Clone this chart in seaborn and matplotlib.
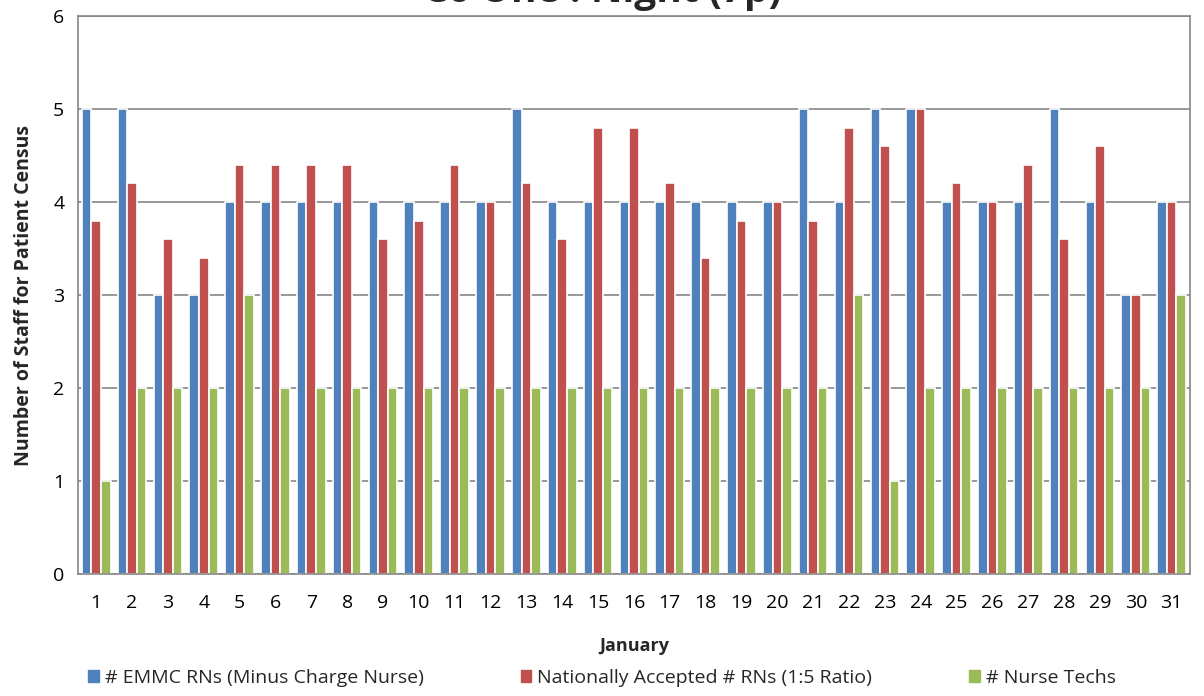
import matplotlib
matplotlib.use("Agg")
import matplotlib.pyplot as plt
import seaborn as sns
import pandas as pd

days = list(range(1, 32))
emmc_rns = [5, 5, 3, 3, 4, 4, 4, 4, 4, 4, 4, 4, 5, 4, 4, 4, 4, 4, 4, 4, 5, 4, 5, 5, 4, 4, 4, 5, 4, 3, 4]
national_rns = [3.8, 4.2, 3.6, 3.4, 4.4, 4.4, 4.4, 4.4, 3.6, 3.8, 4.4, 4.0, 4.2, 3.6, 4.8, 4.8, 4.2, 3.4,
                3.8, 4.0, 3.8, 4.8, 4.6, 5.0, 4.2, 4.0, 4.4, 3.6, 4.6, 3.0, 4.0]
nurse_techs = [1, 2, 2, 2, 3, 2, 2, 2, 2, 2, 2, 2, 2, 2, 2, 2, 2, 2, 2, 2, 2, 3, 1, 2, 2, 2, 2, 2, 2, 2, 3]
series_names = ["# EMMC RNs (Minus Charge Nurse)", "Nationally Accepted # RNs (1:5 Ratio)", "# Nurse Techs"]
colors = ["#4F81BD", "#C0504D", "#9BBB59"]

rows = []
for name, vals in zip(series_names, [emmc_rns, national_rns, nurse_techs]):
    for d, v in zip(days, vals):
        rows.append({"Day": str(d), "Value": v, "Series": name})
df = pd.DataFrame(rows)

sns.set_theme(style="white")
plt.rcParams['font.family'] = ['Open Sans', 'DejaVu Sans']

fig = plt.figure(figsize=(12.04, 6.96), dpi=100)
ax = fig.add_axes([0.065, 0.175, 0.923, 0.802])

ax.set_axisbelow(True)
ax.yaxis.grid(True, color="#868686", linewidth=1.2)
sns.barplot(data=df, x="Day", y="Value", hue="Series", palette=colors, saturation=1,
            order=[str(d) for d in days], hue_order=series_names,
            width=0.8, edgecolor="white", linewidth=1.2, ax=ax, legend=False)

ax.set_ylim(0, 6)
ax.set_yticks(range(0, 7))
ax.set_xlim(-0.5, 30.5)
ax.tick_params(axis="both", labelsize=14, length=0, colors="black")
ax.tick_params(axis="x", pad=14)
ax.tick_params(axis="y", pad=10)
ax.set_xlabel("January", fontsize=13, fontweight="bold", labelpad=18)
ax.set_ylabel("Number of Staff for Patient Census", fontsize=14, fontweight="bold", labelpad=14)
for s in ax.spines.values():
    s.set_color("#868686")
    s.set_linewidth(1.2)

handles = [plt.Rectangle((0, 0), 1, 1, color=c) for c in colors]
fig.legend(handles, series_names, loc="lower center", bbox_to_anchor=(0.5, -0.012), ncol=3,
           frameon=False, fontsize=14, handlelength=0.55, handleheight=0.55,
           handletextpad=0.3, columnspacing=5.0)

fig.text(0.5, 0.997, "C6 One : Night (7p)", ha="center", va="baseline",
         fontsize=28, fontweight="bold")

fig.savefig("out.png", dpi=100)
